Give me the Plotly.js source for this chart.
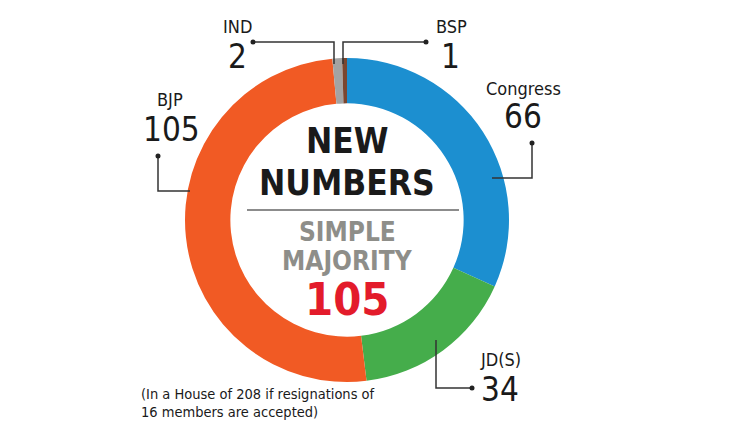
<!DOCTYPE html>
<html>
<head>
<meta charset="utf-8">
<script src="https://cdn.plot.ly/plotly-3.0.1.min.js"></script>
<style>
  html, body { margin: 0; padding: 0; background: #ffffff; }
  #chart { width: 750px; height: 430px; }
</style>
</head>
<body>
<div id="chart"></div>
<script>
// Seat shares, clockwise from 12 o'clock
const parties = ["Congress", "JD(S)", "BJP", "IND", "BSP"];
const seats = [66, 34, 105, 2, 1];
const partyColors = ["#1c8fd0", "#45ad4b", "#f15a24", "#a3a3a3", "#7a4630"];

const centreTitle = ["NEW", "NUMBERS"];
const centreSub = ["SIMPLE", "MAJORITY"];
const majority = 105;
const houseSize = 208;
const footnote = ["(In a House of " + houseSize + " if resignations of", "16 members are accepted)"];

const W = 750, H = 430;
const px = (x) => x / W;
const py = (y) => 1 - y / H;

const NARROW = '"DejaVu Sans Condensed", "Liberation Sans Narrow", Arial, sans-serif';

// donut centre and radius in pixels
const cx = 347, cy = 220, r = 162;

// label placement (pixels): name centre, number centre
const labelPos = {
  "Congress": { name: [523, 88], num: [523, 116] },
  "JD(S)": { name: [500, 359], num: [500, 389] },
  "BJP": { name: [170, 99], num: [171, 129] },
  "IND": { name: [237, 27], num: [237, 56] },
  "BSP": { name: [451, 27], num: [450, 56] }
};

// leader lines (pixels)
const leaders = {
  "Congress": [[532, 143], [532, 178], [492, 178]],
  "JD(S)": [[436, 340], [436, 388], [472, 388]],
  "BJP": [[158, 156], [158, 191], [190, 191]],
  "IND": [[253, 42], [334, 42], [334, 64]],
  "BSP": [[426, 42], [343, 42], [343, 64]]
};
const dotAt = { "Congress": 0, "JD(S)": 2, "BJP": 0, "IND": 0, "BSP": 0 };

const trace = {
  type: "pie",
  labels: parties,
  values: seats,
  sort: false,
  direction: "clockwise",
  rotation: 0,
  hole: 0.72,
  textinfo: "none",
  hoverinfo: "none",
  showlegend: false,
  marker: { colors: partyColors, line: { width: 0 } },
  domain: { x: [px(cx - r), px(cx + r)], y: [py(cy + r), py(cy - r)] }
};

const annotations = [];
const shapes = [];

parties.forEach((p, i) => {
  const pos = labelPos[p];
  annotations.push({
    xref: "paper", yref: "paper", x: px(pos.name[0]), y: py(pos.name[1]),
    xanchor: "center", yanchor: "middle", showarrow: false, borderpad: 0,
    text: p, font: { family: NARROW, size: 18, color: "#1a1a1a" }
  });
  annotations.push({
    xref: "paper", yref: "paper", x: px(pos.num[0]), y: py(pos.num[1]),
    xanchor: "center", yanchor: "middle", showarrow: false, borderpad: 0,
    text: String(seats[i]), font: { family: NARROW, size: 33, color: "#1a1a1a" }
  });
  const pts = leaders[p];
  const path = pts.map((q, k) => (k ? "L" : "M") + px(q[0]) + "," + py(q[1])).join(" ");
  shapes.push({ type: "path", xref: "paper", yref: "paper", path: path,
    line: { color: "#333333", width: 1.5 } });
  const d = pts[dotAt[p]];
  shapes.push({ type: "circle", xref: "paper", yref: "paper",
    x0: px(d[0] - 2.5), x1: px(d[0] + 2.5), y0: py(d[1] + 2.5), y1: py(d[1] - 2.5),
    fillcolor: "#222222", line: { width: 0 } });
});

// centre block
annotations.push({ xref: "paper", yref: "paper", x: px(cx), y: py(141), xanchor: "center", yanchor: "middle",
  showarrow: false, text: "<b>" + centreTitle[0] + "</b>", font: { family: NARROW, size: 35, color: "#1a1a1a" } });
annotations.push({ xref: "paper", yref: "paper", x: px(cx), y: py(183), xanchor: "center", yanchor: "middle",
  showarrow: false, text: "<b>" + centreTitle[1] + "</b>", font: { family: NARROW, size: 35, color: "#1a1a1a" } });
shapes.push({ type: "line", xref: "paper", yref: "paper", x0: px(247), x1: px(459), y0: py(210), y1: py(210),
  line: { color: "#666666", width: 1.5 } });
annotations.push({ xref: "paper", yref: "paper", x: px(cx), y: py(232), xanchor: "center", yanchor: "middle",
  showarrow: false, text: "<b>" + centreSub[0] + "</b>", font: { family: NARROW, size: 26, color: "#8e8e89" } });
annotations.push({ xref: "paper", yref: "paper", x: px(cx), y: py(261), xanchor: "center", yanchor: "middle",
  showarrow: false, text: "<b>" + centreSub[1] + "</b>", font: { family: NARROW, size: 26, color: "#8e8e89" } });
annotations.push({ xref: "paper", yref: "paper", x: px(cx), y: py(299), xanchor: "center", yanchor: "middle",
  showarrow: false, text: "<b>" + majority + "</b>", font: { family: NARROW, size: 45, color: "#e31b2b" } });

// footnote
footnote.forEach((t, k) => {
  annotations.push({ xref: "paper", yref: "paper", x: px(139), y: py(394 + k * 18), xanchor: "left", yanchor: "middle",
    showarrow: false, text: t, font: { family: NARROW, size: 14.5, color: "#1a1a1a" } });
});

const layout = {
  width: W, height: H,
  margin: { l: 0, r: 0, t: 0, b: 0 },
  paper_bgcolor: "#ffffff",
  plot_bgcolor: "#ffffff",
  showlegend: false,
  annotations: annotations,
  shapes: shapes
};

Plotly.newPlot("chart", [trace], layout, { displayModeBar: false, staticPlot: true });
</script>
</body>
</html>
